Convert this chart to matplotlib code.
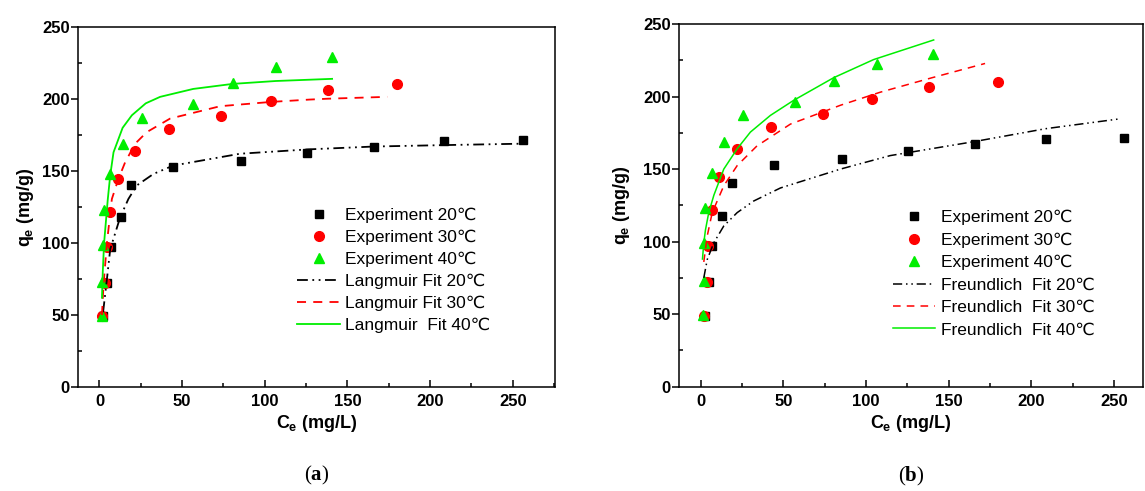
import numpy as np
import matplotlib
matplotlib.use('Agg')
import matplotlib.pyplot as plt
from matplotlib.ticker import MultipleLocator

plt.rcParams['font.family'] = ['Liberation Sans', 'DejaVu Sans']
plt.rcParams['mathtext.fontset'] = 'custom'
plt.rcParams['mathtext.rm'] = 'Liberation Sans:bold'
plt.rcParams['mathtext.it'] = 'Liberation Sans:bold'
plt.rcParams['mathtext.bf'] = 'Liberation Sans:bold'
plt.rcParams['mathtext.sf'] = 'Liberation Serif:bold'

# experimental points (same in both panels)
ce_20 = [2.4, 4.8, 6.9, 12.9, 19, 44.4, 85.3, 125.4, 166, 208.6, 256.3]
qe_20 = [49, 72.5, 97, 118, 140.5, 153, 157, 162.3, 167, 170.7, 171.5]
ce_30 = [1.8, 3.5, 4.5, 6.5, 11.1, 21.6, 42.3, 73.8, 103.6, 138, 180]
qe_30 = [49, 72.5, 97, 121.8, 144.3, 163.6, 179, 188.3, 198.5, 206.6, 210.3]
ce_40 = [1.5, 1.8, 2, 2.8, 6.5, 14.3, 25.8, 56.7, 80.6, 106.6, 140.7]
qe_40 = [49.5, 73, 98.8, 123, 147.6, 168.5, 187, 196.4, 210.8, 222.4, 229]

# Langmuir fit curves (a)
lang_ce_20 = [2.2, 4.5, 6.5, 12.5, 17.5, 22.6, 32.7, 44.7, 85, 126, 166, 209, 257]
lang_q_20 = [52, 74.8, 95.7, 117.8, 130.6, 140, 148, 153.8, 162, 165, 167, 168, 169]
lang_ce_30 = [1.5, 2.4, 4.5, 7.5, 11.5, 15.5, 21.6, 28.6, 42.7, 73, 104, 127, 138, 174]
lang_q_30 = [50, 70, 100, 130.6, 144.6, 156, 169, 177, 186.4, 195, 198, 199.6, 200.2, 201.5]
lang_ce_40 = [1.5, 2.0, 2.8, 5.0, 6.5, 8.5, 14, 19.6, 28, 36.7, 56.7, 80.6, 106.6, 140.7]
lang_q_40 = [62, 80, 100, 130, 147, 163, 180, 188.7, 197, 201.5, 207, 210.5, 212.5, 214]

# Freundlich fit curves (b)
freu_ce_20 = [1.8, 3.9, 7.9, 13.9, 22, 32, 48.2, 84.5, 114.6, 165.7, 208.4, 254]
freu_q_20 = [75, 87.7, 99.3, 110.8, 120, 128, 137, 150, 159.3, 169, 177.8, 184.7]
freu_ce_30 = [1.8, 3.9, 6.9, 13.9, 22, 34, 54.2, 84.5, 108.6, 140, 172]
freu_q_30 = [86, 104, 120, 138.5, 152.4, 166, 181, 194, 203, 213, 222.8]
freu_ce_40 = [1.0, 1.8, 2.8, 4.8, 7.9, 13.9, 22, 30, 42.1, 56.2, 80.4, 104.6, 140.9]
freu_q_40 = [88, 99, 108, 120, 132, 150, 164, 175.5, 187, 197.4, 213, 225.5, 239]

exp_labels = ['Experiment 20\u2103', 'Experiment 30\u2103', 'Experiment 40\u2103']
lang_labels = ['Langmuir Fit 20\u2103', 'Langmuir Fit 30\u2103', 'Langmuir  Fit 40\u2103']
freu_labels = ['Freundlich  Fit 20\u2103', 'Freundlich  Fit 30\u2103', 'Freundlich  Fit 40\u2103']

GREEN = '#00ee00'
RED = '#ff0000'


def draw_panel(ax, fits, fit_labels, fit_lw, xmax, tag, leg_y, leg_sp, ypad):
    ax.plot(ce_20, qe_20, 's', color='black', ms=6.2, ls='none', label=exp_labels[0])
    ax.plot(ce_30, qe_30, 'o', color=RED, ms=7, ls='none', label=exp_labels[1])
    ax.plot(ce_40, qe_40, '^', color=GREEN, ms=7.5, ls='none', label=exp_labels[2])
    styles = [('black', (0, (6, 2.5, 1, 2.5, 1, 2.5))), (RED, (0, (5, 4))), (GREEN, '-')]
    for (c, q), (col, ls), lab in zip(fits, styles, fit_labels):
        ax.plot(c, q, color=col, ls=ls, lw=fit_lw, label=lab)

    ax.set_xlim(-13, xmax)
    ax.set_ylim(0, 250)
    ax.xaxis.set_major_locator(MultipleLocator(50))
    ax.xaxis.set_minor_locator(MultipleLocator(25))
    ax.yaxis.set_major_locator(MultipleLocator(50))
    ax.yaxis.set_minor_locator(MultipleLocator(25))
    ax.tick_params(axis='x', which='major', direction='in', length=5, width=1.1, pad=5)
    ax.tick_params(axis='x', which='minor', direction='in', length=3, width=1.1)
    ax.tick_params(axis='y', which='major', direction='out', length=5, width=1.1, pad=1)
    ax.tick_params(axis='y', which='minor', direction='in', length=3, width=1.1)
    for lab in ax.get_xticklabels() + ax.get_yticklabels():
        lab.set_fontweight('bold')
        lab.set_fontsize(12)
    for s in ax.spines.values():
        s.set_linewidth(1.1)

    ax.set_xlabel('$C_e$ (mg/L)', fontsize=13, fontweight='bold', labelpad=3)
    ax.set_ylabel('$q_e$ (mg/g)', fontsize=13, fontweight='bold', labelpad=ypad)

    ax.legend(loc='upper left', bbox_to_anchor=(0.46, leg_y), frameon=False,
              fontsize=12.5, handlelength=2.45, handletextpad=0.32, labelspacing=leg_sp,
              borderpad=0, borderaxespad=0)

    ax.text(0.5, -0.215, '($\\mathsf{' + tag + '}$)', transform=ax.transAxes,
            ha='center', va='top', fontsize=15, family='Liberation Serif')


fig = plt.figure(figsize=(11.45, 4.91), dpi=100)
ax1 = fig.add_axes([0.0681, 0.2118, 0.4166, 0.7332])
ax2 = fig.add_axes([0.5933, 0.2124, 0.4050, 0.7387])

draw_panel(ax1, [(lang_ce_20, lang_q_20), (lang_ce_30, lang_q_30), (lang_ce_40, lang_q_40)],
           lang_labels, 1.3, 275.5, 'a', 0.497, 0.38, 4)
draw_panel(ax2, [(freu_ce_20, freu_q_20), (freu_ce_30, freu_q_30), (freu_ce_40, freu_q_40)],
           freu_labels, 1.1, 267.6, 'b', 0.487, 0.41, 8)

fig.savefig('out.png', dpi=100)
